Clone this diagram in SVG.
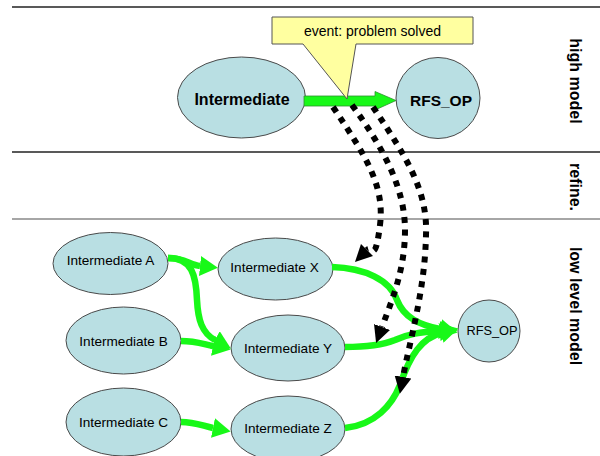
<svg xmlns="http://www.w3.org/2000/svg" width="600" height="456" viewBox="0 0 600 456">
<defs>
<style>
.node ellipse{fill:#b9dfe3;stroke:#4a4a4a;stroke-width:1}
.lbl{font-family:"Liberation Sans",Arial,sans-serif;font-size:13.6px;fill:#000;text-anchor:middle}
.big{font-family:"Liberation Sans",Arial,sans-serif;font-size:16px;font-weight:bold;fill:#000;text-anchor:middle}
.side{font-family:"Liberation Sans",Arial,sans-serif;font-size:16px;font-weight:bold;fill:#000;text-anchor:middle}
.sep{stroke:#222;stroke-width:1.3}
.g{fill:none;stroke:#18f818;stroke-width:6.5;marker-end:url(#ga)}
.d{fill:none;stroke:#000;stroke-width:6;stroke-dasharray:6 6.5;marker-end:url(#ba)}
</style>
<marker id="ga" viewBox="0 0 18 20" refX="0" refY="10" markerWidth="18" markerHeight="20" orient="auto" markerUnits="userSpaceOnUse"><path d="M0,0 L18,10 L0,20 z" fill="#18f818"/></marker>
<marker id="ba" viewBox="0 0 17 17" refX="0" refY="8.5" markerWidth="17" markerHeight="17" orient="auto" markerUnits="userSpaceOnUse"><path d="M0,0 L17,8.5 L0,17 z" fill="#000"/></marker>
</defs>
<rect width="600" height="456" fill="#fff"/>
<g id="separators">
<line class="sep" x1="12" y1="7" x2="600" y2="7"/>
<line class="sep" x1="12" y1="152" x2="600" y2="152"/>
<line x1="12" y1="219" x2="600" y2="219" stroke="#888" stroke-width="1.5"/>
</g>
<g id="side-labels">
<text class="side" transform="translate(570,81) rotate(90)">high model</text>
<text class="side" transform="translate(570,187) rotate(90)">refine.</text>
<text class="side" transform="translate(570,306) rotate(90)">low level model</text>
</g>
<g id="n-high-intermediate" class="node"><ellipse cx="241.5" cy="97.5" rx="64" ry="40.5"/><text class="big" x="242" y="105">Intermediate</text></g>
<g id="n-high-rfs" class="node"><ellipse cx="438" cy="98" rx="42" ry="40.5"/><text class="big" x="441" y="106" style="font-size:15.5px">RFS_OP</text></g>
<g id="n-a" class="node"><ellipse cx="110.5" cy="263.5" rx="57.5" ry="31"/><text class="lbl" x="110.5" y="265">Intermediate A</text></g>
<g id="n-x" class="node"><ellipse cx="275.5" cy="269" rx="57.5" ry="31"/><text class="lbl" x="274.5" y="272">Intermediate X</text></g>
<g id="n-b" class="node"><ellipse cx="123.5" cy="340.5" rx="57.5" ry="33.5"/><text class="lbl" x="123.5" y="346">Intermediate B</text></g>
<g id="n-y" class="node"><ellipse cx="288" cy="348" rx="57" ry="33"/><text class="lbl" x="288" y="353">Intermediate Y</text></g>
<g id="n-c" class="node"><ellipse cx="123.5" cy="422" rx="57.5" ry="34"/><text class="lbl" x="123.5" y="427">Intermediate C</text></g>
<g id="n-z" class="node"><ellipse cx="288" cy="429" rx="57" ry="33"/><text class="lbl" x="288" y="433">Intermediate Z</text></g>
<g id="n-low-rfs" class="node"><ellipse cx="489" cy="331" rx="31" ry="31"/><text class="lbl" x="492" y="335" style="font-size:12.8px">RFS_OP</text></g>
<g id="connectors">
<polygon points="304,96 375,96 375,91.5 396,100.5 375,110 375,106 304,106" fill="#18f818" stroke="#2f8f2f" stroke-width="0.8"/>
<path class="g" d="M168,258 C185,258 190,265 200,266"/>
<path class="g" d="M168,258 C192,258 196,275 197,300 C198,320 202,333 215,340"/>
<path class="g" d="M181,341 C195,341 203,344 213,346"/>
<path class="g" d="M181,422 C195,422 203,426 213,428"/>
<path class="g" d="M332,267 C365,268 390,280 397,300 C404,318 420,325 440,329"/>
<path class="g" d="M345,347 C370,347 385,344 395,340 C408,334 420,332 440,331"/>
<path class="g" d="M345,428 C375,425 392,405 400,385 C410,355 422,338 441,333"/>
<path class="d" d="M333,107 C365,155 385,185 380,225 S372,245 367,250"/>
<path class="d" d="M352,105 C385,150 405,190 405,230 C405,270 392,300 382,327"/>
<path class="d" d="M373,107 C405,155 428,190 426,235 C425,290 410,340 403,377"/>
</g>
<g id="callout">
<path d="M272,17 H473 V44 H356 L347,99 L303,44 H272 Z" fill="#ffffa0" stroke="#555" stroke-width="1"/>
<text x="372.5" y="36" style="font-family:'Liberation Sans',Arial,sans-serif;font-size:14px;text-anchor:middle">event: problem solved</text>
</g>
</svg>
